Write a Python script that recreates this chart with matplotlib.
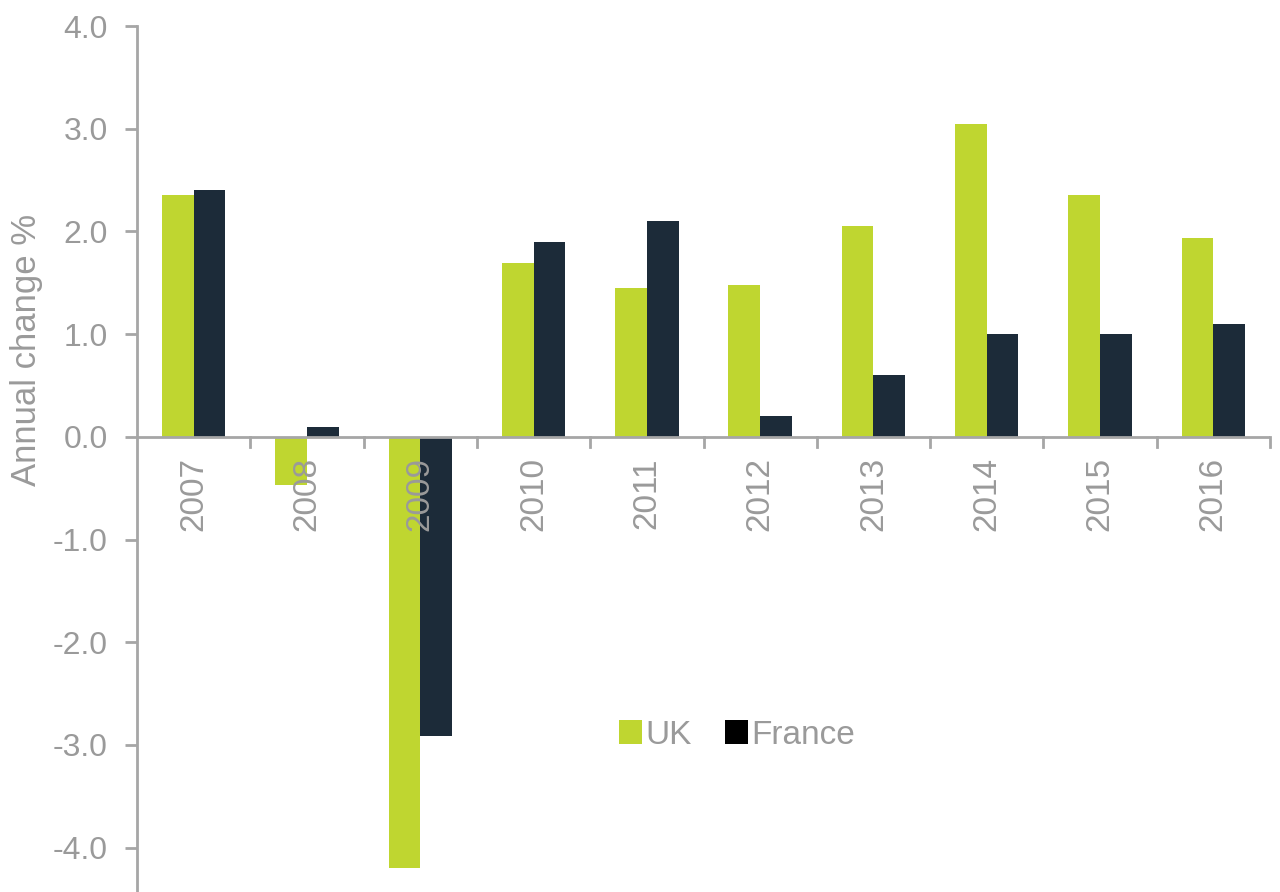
import matplotlib
matplotlib.use("Agg")
import matplotlib.pyplot as plt
import numpy as np
from matplotlib.patches import Patch

years = ["2007", "2008", "2009", "2010", "2011", "2012", "2013", "2014", "2015", "2016"]
uk = [2.35, -0.47, -4.20, 1.69, 1.45, 1.48, 2.05, 3.05, 2.35, 1.94]
france = [2.40, 0.10, -2.91, 1.90, 2.10, 0.20, 0.60, 1.00, 1.00, 1.10]
yticks = [-4.0, -3.0, -2.0, -1.0, 0.0, 1.0, 2.0, 3.0, 4.0]

GREEN = "#bfd630"
NAVY = "#1c2b39"
GRAY = "#9a9a9a"
SPINE = "#a6a6a6"

plt.rcParams['font.family'] = ['Liberation Sans', 'DejaVu Sans']

fig = plt.figure(figsize=(12.8, 8.92), dpi=100)
ax = fig.add_axes([137/1280, 1 - 899/892, (1270 - 137)/1280, 873/892])

x = np.arange(len(years))
w = 0.28
ax.bar(x - w/2, uk, width=w, color=GREEN, zorder=2)
ax.bar(x + w/2, france, width=w, color=NAVY, zorder=2)

ax.set_xlim(-0.5, len(years) - 0.5)
ax.set_ylim(-4.5, 4.0)

for s in ["top", "right", "bottom"]:
    ax.spines[s].set_visible(False)
ax.spines["left"].set_color(SPINE)
ax.spines["left"].set_linewidth(2)
ax.axhline(0, color=SPINE, lw=2, zorder=3)

ax.set_yticks(yticks)
ax.set_yticklabels([f"{v:.1f}" for v in yticks])
ax.tick_params(axis="y", direction="out", length=9, width=2, color=SPINE,
               labelsize=23, labelcolor=GRAY, pad=12)

ax.set_xticks([])
ax.tick_params(axis="x", length=0)
# category boundary ticks on the zero line
for b in np.arange(0.5, len(years), 1.0):
    ax.plot([b, b], [0, -0.1], color=SPINE, lw=2, zorder=3, clip_on=False)
for xi, yr in zip(x, years):
    ax.text(xi, -0.2, yr, rotation=90, ha="center", va="top",
            fontsize=24, color=GRAY, zorder=5)

fig.text(27/1280, 1 - 350/892, "Annual change %", rotation=90, ha="center",
         va="center", fontsize=25, color=GRAY)

handles = [Patch(facecolor=GREEN, label="UK"), Patch(facecolor="#000000", label="France")]
leg = ax.legend(handles=handles, loc="center", ncol=2, frameon=False, fontsize=24,
                handlelength=0.7, handleheight=0.7, handletextpad=0.1,
                columnspacing=1.0,
                bbox_to_anchor=((737 - 137)/(1270 - 137), (899 - 735)/873),
                bbox_transform=ax.transAxes)
for t in leg.get_texts():
    t.set_color(GRAY)

fig.savefig("out.png", dpi=100)
